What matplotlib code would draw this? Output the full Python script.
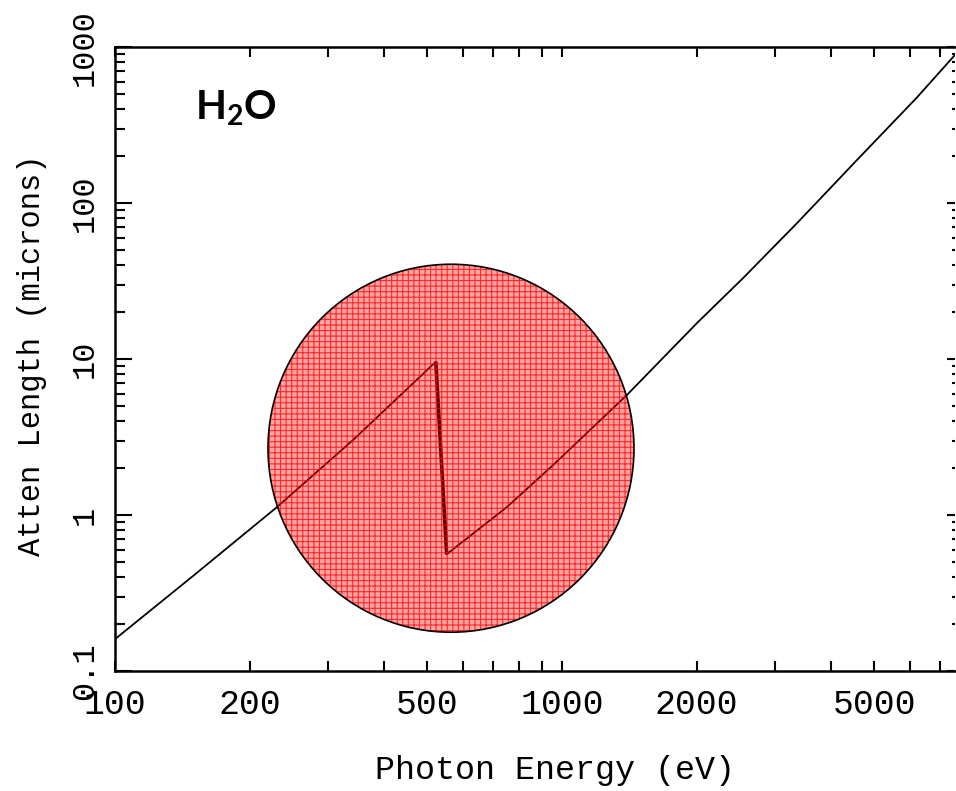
import matplotlib
matplotlib.use("Agg")
import matplotlib.pyplot as plt
from matplotlib.patches import Ellipse
from matplotlib.ticker import FixedLocator, NullFormatter, LogLocator

plt.rcParams['mathtext.fontset'] = 'custom'
plt.rcParams['mathtext.rm'] = 'Lato'
plt.rcParams['mathtext.bf'] = 'Lato:bold'
plt.rcParams['hatch.color'] = 'red'
plt.rcParams['hatch.linewidth'] = 0.8

# Data: photon energy (eV) vs attenuation length (microns) for H2O
energy = [100, 150, 230, 341, 522, 552, 753, 955, 1397,
          2004, 2541, 3373, 4572, 6223, 7570]
atten = [0.160, 0.41, 1.12, 3.03, 9.6, 0.56, 1.125, 2.09, 5.88,
         17.0, 33.0, 75.5, 189.0, 475.0, 890.0]
# absorption-edge segment (O K edge), drawn heavier
edge_energy = [522, 552]
edge_atten = [9.6, 0.56]

x_major = [100, 200, 300, 400, 500, 600, 700, 800, 900,
           1000, 2000, 3000, 4000, 5000, 6000, 7000]
x_labels = {100: "100", 200: "200", 500: "500", 1000: "1000",
            2000: "2000", 5000: "5000"}
y_major = [0.1, 1, 10, 100, 1000]
y_labels = ["0.1", "1", "10", "100", "1000"]

mono = "Liberation Mono"

fig = plt.figure(figsize=(9.56, 7.91), dpi=100)
ax = fig.add_axes([115/956, 1-671/791, 840/956, 624/791])
ax.set_xscale('log')
ax.set_yscale('log')
ax.set_xlim(100, 7570)
ax.set_ylim(0.1, 1000)

ax.plot(energy, atten, color='black', lw=1.3, zorder=2)
ax.plot(edge_energy, edge_atten, color='black', lw=2.6, zorder=2,
        solid_capstyle='butt')

# highlight circle
circ_fill = Ellipse((0.4, 0.357), 0.4357, 0.5897, transform=ax.transAxes,
                    facecolor=(1, 0, 0, 0.36), edgecolor=(1, 0, 0, 0.75),
                    hatch='+++', lw=0, zorder=3)
ax.add_patch(circ_fill)
circ_edge = Ellipse((0.4, 0.357), 0.4357, 0.5897, transform=ax.transAxes,
                    facecolor='none', edgecolor='black', lw=1.2, zorder=4)
ax.add_patch(circ_edge)

# x ticks
ax.xaxis.set_major_locator(FixedLocator(x_major))
ax.xaxis.set_minor_locator(FixedLocator([]))
ax.set_xticklabels([x_labels.get(v, "") for v in x_major])
ax.tick_params(axis='x', which='major', direction='in', length=7, width=1.5,
               top=True, bottom=True, pad=12, labelsize=25)
for lab in ax.get_xticklabels():
    lab.set_fontfamily(mono)

# y ticks
ax.yaxis.set_major_locator(FixedLocator(y_major))
ax.set_yticklabels(y_labels)
ax.yaxis.set_minor_locator(LogLocator(base=10, subs=range(2, 10)))
ax.yaxis.set_minor_formatter(NullFormatter())
ax.tick_params(axis='y', which='major', direction='in', length=12, width=1.5,
               left=True, right=False, pad=11, labelsize=23)
ax.tick_params(axis='y', which='minor', direction='in', length=7, width=1.5,
               left=True, right=False)
for lab in ax.get_yticklabels():
    lab.set_fontfamily(mono)
    lab.set_rotation(90)
    lab.set_va('center')

# right side short ticks
ax2 = ax.twinx()
ax2.set_yscale('log')
ax2.set_ylim(0.1, 1000)
ax2.yaxis.set_major_locator(FixedLocator(y_major))
ax2.yaxis.set_minor_locator(LogLocator(base=10, subs=range(2, 10)))
ax2.yaxis.set_major_formatter(NullFormatter())
ax2.yaxis.set_minor_formatter(NullFormatter())
ax2.tick_params(axis='y', which='major', direction='in', length=6, width=1.5)
ax2.tick_params(axis='y', which='minor', direction='in', length=2.5, width=1.5)
for s in ax2.spines.values():
    s.set_visible(False)

for side in ['left', 'bottom', 'top']:
    ax.spines[side].set_linewidth(1.8)
ax.spines['right'].set_visible(False)

fig.text(32/956, 1-355/791, "Atten Length (microns)", rotation=90,
         ha='center', va='center', fontsize=22, fontfamily=mono)
fig.text(555/956, 1-770/791, "Photon Energy (eV)", ha='center', va='center',
         fontsize=24, fontfamily=mono)

ax.text((195-115)/840, 1-(109-47)/624, r'$\mathbf{H_2O}$', transform=ax.transAxes,
        ha='left', va='center', fontsize=29, color='black')

fig.savefig("out.png", dpi=100)
